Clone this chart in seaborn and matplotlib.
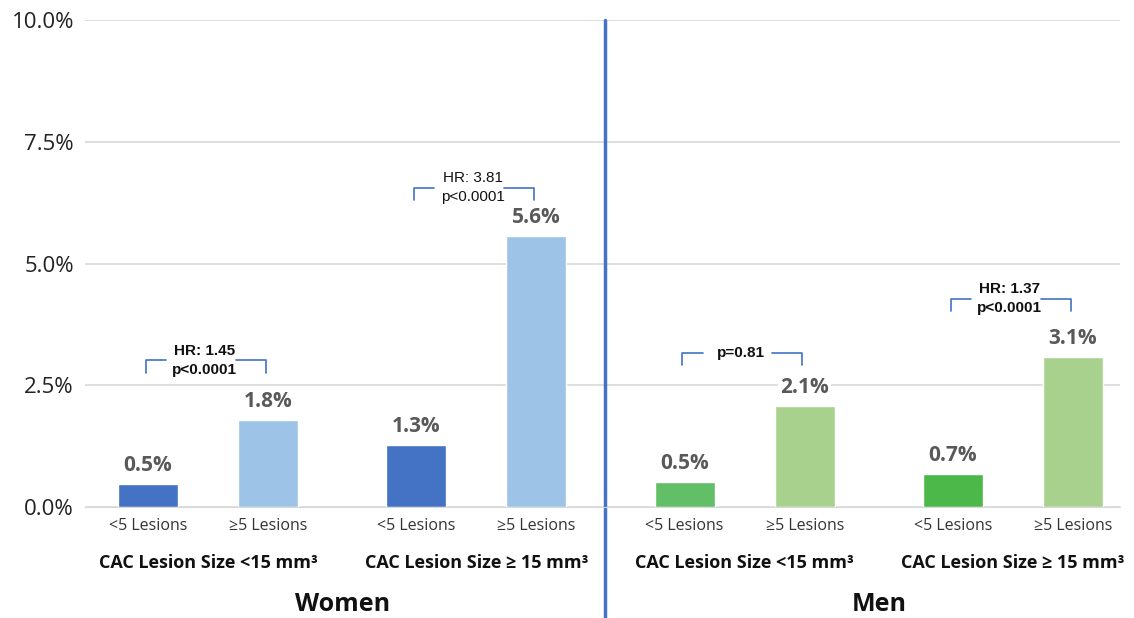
import numpy as np
import pandas as pd
import seaborn as sns
import matplotlib.pyplot as plt

# values (percent)
lesions = ["<5 Lesions", "≥5 Lesions"] * 4
groups = ["CAC Lesion Size <15 mm³", "CAC Lesion Size ≥ 15 mm³",
          "CAC Lesion Size <15 mm³", "CAC Lesion Size ≥ 15 mm³"]
sexes = ["Women", "Men"]
rates = [0.47, 1.79, 1.27, 5.56, 0.51, 2.07, 0.68, 3.08]
colors = ["#4472C4", "#9DC3E6", "#4472C4", "#9DC3E6",
          "#62BE67", "#A9D18E", "#4CB849", "#A9D18E"]
stats = ["HR: 1.45\np<0.0001", "HR: 3.81\np<0.0001", "p=0.81", "HR: 1.37\np<0.0001"]
stat_bold = [True, False, True, True]
bracket_y = [3.01, 6.56, 3.16, 4.28]

pair_gap = 2.235
pos = [p * pair_gap + s for p in range(4) for s in range(2)]
df = pd.DataFrame({"pos": pos, "rate": rates, "bar": range(8)})

sns.set_style("white")
plt.rcParams["font.family"] = ["Open Sans", "DejaVu Sans"]

fig = plt.figure(figsize=(11.34, 6.18), dpi=100)
ax = fig.add_axes([0.075, 0.1796, 0.913, 0.788])

sns.barplot(data=df, x="pos", y="rate", hue="bar", palette=colors,
            native_scale=True, dodge=False, width=0.5, legend=False,
            saturation=1, ax=ax)

ax.set_xlim(-0.525, 8.1)
ax.set_ylim(0, 10)
ax.set_yticks([0, 2.5, 5, 7.5, 10])
ax.set_yticklabels(["0.0%", "2.5%", "5.0%", "7.5%", "10.0%"], fontsize=16, color="#222222")
ax.yaxis.grid(True, color="#D9D9D9", lw=1.2)
ax.set_axisbelow(True)
for s in ["top", "right", "left"]:
    ax.spines[s].set_visible(False)
ax.spines["bottom"].set_color("#D9D9D9")
ax.set_xticks(pos)
ax.set_xticklabels(lesions, fontsize=11.5, color="#333333")
ax.tick_params(axis="both", length=0, pad=8)
ax.tick_params(axis="y", pad=8)
ax.set_xlabel("")
ax.set_ylabel("")

# value labels
for x, v in zip(pos, rates):
    ax.annotate(f"{v:.1f}%", (x, v), xytext=(0, 6), textcoords="offset points",
                ha="center", va="bottom", fontsize=15, fontweight="bold", color="#595959",
                bbox=dict(boxstyle="square,pad=0.1", fc="white", ec="none"))

# significance brackets
for i in range(4):
    x0, x1 = pos[2 * i], pos[2 * i + 1]
    y = bracket_y[i]
    drop = 0.25
    ax.plot([x0 - 0.02, x0 - 0.02, x0 + 0.15], [y - drop, y, y], color="#4472C4", lw=1.2)
    ax.plot([x1 - 0.27, x1 - 0.02, x1 - 0.02], [y, y, y - drop], color="#4472C4", lw=1.2)
    ax.text((x0 + x1) / 2 - 0.03, y, stats[i], ha="center", va="center", fontsize=11,
            fontweight="bold" if stat_bold[i] else "normal", color="#111111",
            linespacing=1.4, family=["Liberation Sans", "DejaVu Sans"])

# group and sex labels
trans = ax.get_xaxis_transform()
for i, g in enumerate(groups):
    ax.text((pos[2 * i] + pos[2 * i + 1]) / 2, -0.115, g, transform=trans,
            ha="center", va="center", fontsize=13, fontweight="bold", color="#111111")
for i, s in enumerate(sexes):
    ax.text((pos[4 * i] + pos[4 * i + 3]) / 2, -0.2, s, transform=trans,
            ha="center", va="center", fontsize=18, fontweight="bold", color="#111111")

# divider between women and men
ax.axvline((pos[3] + pos[4]) / 2 - 0.045, ymin=-0.23, ymax=1, color="#4472C4", lw=2.5, clip_on=False)

fig.savefig("out.png", dpi=100)
